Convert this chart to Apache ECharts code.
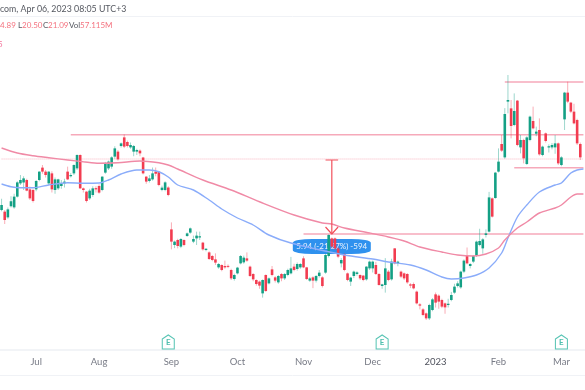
<!DOCTYPE html>
<html>
<head>
<meta charset="utf-8">
<style>
  html, body { margin: 0; padding: 0; background: #fff; }
  #chart { width: 585px; height: 390px; filter: blur(0.45px); }
</style>
<script src="https://cdn.jsdelivr.net/npm/echarts@6/dist/echarts.min.js"></script>
</head>
<body>
<div id="chart"></div>
<script>
// daily candles
const opens = [
  23.9,23.77,23.31,24.2,24.11,24.97,26.03,26.1,26.3,25.55,25.5,25.55,26.3,27.29,26.97,26.03,26.83,25.5,25.63,25.82,
  26.03,26.97,26.6,26.83,27.23,28.3,25.63,25.37,24.83,25.1,25.65,25.82,25.5,26.89,27.23,27.37,28.17,28.57,29.02,29.71,
  29.34,28.91,28.57,28.57,28.65,28.1,26.57,26.22,26.35,26.97,26.97,25.5,25.5,25.7,22.35,21.1,21.5,20.97,21.5,21.82,
  22.09,21.37,21.63,21.7,21.29,20.7,20.51,20.22,19.95,19.31,19.5,19.42,19.43,19.1,18.38,18.83,19.63,19.71,20.03,19.37,
  18.78,18.3,18.17,17.23,18.7,18.03,19.15,18.51,18.11,18.78,18.43,18.7,18.83,19.37,19.18,19.31,20.03,19.31,18.25,18.51,
  18.25,18.62,18.51,18.89,20.22,21.63,21.63,20.83,19.63,20.38,18.83,18.17,18.62,18.78,18.7,18.65,18.35,19.23,19.23,19.5,
  18.78,17.82,17.9,18.97,18.35,20.83,19.63,18.97,18.83,18.78,17.95,17.98,17.37,16.35,15.95,15.63,15.23,15.9,17.15,17.05,
  16.7,16.43,16.3,16.7,17.29,17.82,17.71,18.97,20.22,19.42,19.77,20.22,21.1,20.83,21.9,22.17,24.83,24.86,26.97,29.18,
  28.11,32.57,32.03,30.7,32.65,28.91,29.5,27.58,29.5,31.02,30.0,30.3,28.3,30.03,28.9,28.91,28.91,29.23,27.5,31.15,
  33.29,32.49,31.77,31.1,29.18
];
const closes = [
  24.3,23.1,23.95,24.6,24.97,26.11,26.3,26.43,25.45,24.83,24.62,26.22,26.97,26.97,26.7,26.97,25.55,26.35,26.35,26.03,
  26.17,26.35,26.7,27.5,28.3,25.63,25.5,24.62,25.45,25.63,25.55,25.29,26.57,27.63,27.77,28.11,28.83,27.95,29.23,28.97,
  29.02,29.1,29.02,28.7,28.43,26.83,26.17,26.43,26.83,26.8,25.9,25.69,26.11,25.1,21.37,21.37,21.02,21.58,21.1,22.03,
  22.43,21.58,21.85,21.8,20.75,20.8,19.98,19.9,19.69,19.58,19.1,19.31,19.37,18.43,18.7,19.29,20.22,20.09,19.85,18.62,
  18.35,17.98,17.85,18.3,17.42,18.43,18.7,18.25,18.62,18.43,18.78,19.1,19.23,19.1,19.58,19.58,19.31,18.38,18.43,18.25,
  18.62,18.89,17.82,20.3,21.9,20.97,20.83,20.17,19.9,19.1,18.3,18.49,18.97,18.91,18.43,18.3,19.37,19.77,19.77,18.78,
  17.9,17.95,19.23,18.3,19.77,19.63,19.77,18.57,18.43,18.11,17.85,17.63,16.43,16.25,15.5,15.23,16.3,16.75,16.49,16.57,
  16.17,16.11,16.4,17.1,17.77,18.03,18.97,19.85,19.63,19.58,20.22,21.37,21.42,21.55,22.03,24.91,23.37,26.89,27.77,28.65,
  31.58,32.7,30.62,31.82,29.1,29.5,28.03,29.71,31.37,30.43,30.17,28.35,28.97,29.42,29.0,29.1,29.23,27.63,28.11,33.29,
  32.57,31.77,30.83,29.23,28.11
];
const lows = [
  23.8,22.78,23.2,24.1,24.0,24.9,25.9,25.5,25.4,24.7,24.5,25.4,26.2,26.8,26.5,25.9,25.3,25.2,25.5,25.6,
  25.7,26.3,26.5,26.7,27.1,25.6,25.3,24.5,24.7,24.95,25.3,25.2,25.4,26.8,27.1,27.2,28.0,27.85,28.9,28.85,
  28.9,28.8,28.2,28.3,28.2,26.75,26.0,26.1,26.25,26.6,25.8,25.4,25.4,25.0,20.75,20.85,20.83,20.85,21.0,21.75,
  22.0,21.25,21.1,21.5,20.65,20.6,19.9,19.8,19.5,19.2,19.0,19.2,19.25,18.3,18.25,18.75,19.55,19.6,19.75,18.55,
  18.2,17.85,17.6,16.89,17.35,17.95,18.6,18.1,18.0,18.2,18.3,18.6,18.75,19.0,19.05,19.2,19.25,18.3,18.15,17.65,
  18.1,18.5,17.7,18.8,20.1,20.8,20.7,20.05,19.31,19.0,18.2,17.82,18.45,18.65,18.3,18.2,18.25,19.1,18.9,18.7,
  17.85,17.6,17.29,18.2,18.25,19.55,19.4,18.45,18.3,18.0,17.65,17.55,16.35,15.95,15.4,15.1,15.1,15.8,16.1,16.0,
  16.05,15.6,16.1,16.6,17.2,17.7,17.6,18.85,19.55,19.23,19.65,20.15,21.0,20.4,21.7,22.1,23.3,24.8,26.9,28.55,
  28.0,31.63,29.63,30.6,29.0,28.43,27.63,27.5,29.4,30.35,29.8,28.25,28.2,29.3,28.5,28.75,28.4,27.5,27.4,30.3,
  32.45,31.65,30.75,29.1,27.9
];
const highs = [
  24.8,23.9,24.1,25.0,25.2,26.2,26.7,26.6,26.4,25.77,25.6,26.3,27.0,27.5,27.1,27.0,27.0,26.5,26.4,26.3,
  26.4,27.37,26.85,27.55,28.35,28.35,25.7,25.4,25.6,25.8,25.8,25.95,26.6,27.75,27.85,28.2,29.0,28.7,29.3,29.95,
  29.45,29.3,29.1,28.8,28.75,28.15,26.6,26.7,27.3,27.3,27.0,25.85,26.2,25.8,22.91,21.45,21.6,21.65,21.55,22.1,
  22.5,21.85,22.17,22.17,21.35,20.85,20.6,20.3,20.43,19.65,19.55,19.85,19.55,19.2,18.8,19.35,20.3,20.25,20.51,19.45,
  18.85,18.35,18.25,18.35,18.75,18.5,19.42,18.6,18.7,18.85,18.85,19.2,20.15,19.6,19.7,19.65,20.2,19.35,18.55,18.6,
  18.7,19.1,18.6,20.4,21.95,21.7,21.7,20.95,20.05,20.45,18.9,18.55,19.05,19.0,18.75,18.7,19.4,19.85,19.85,19.75,
  18.85,18.0,20.05,19.1,20.0,20.85,19.85,19.05,18.9,18.85,18.05,18.1,17.45,16.45,16.05,15.7,16.4,16.85,17.3,17.15,
  16.8,16.5,16.8,17.35,18.0,18.2,19.05,19.95,20.9,19.65,20.3,21.45,22.4,21.65,22.35,25.35,24.9,26.95,28.83,29.9,
  32.05,34.7,32.7,33.23,32.7,29.9,29.6,29.8,31.45,32.17,30.57,31.23,29.05,30.1,29.15,29.25,29.9,29.3,28.2,33.35,
  34.17,32.55,32.4,31.2,29.3
];
// moving averages, sparse readings as [candle index, price]
const blueMa = [
  [0,25.98],[3,25.76],[6,25.68],[10,25.68],[15,25.9],[21,26.08],[26,26.04],[31,26.06],[34,26.3],[38,26.78],[43,27.1],
  [47,27.1],[50,26.96],[53,26.54],[56,25.9],[61,25.5],[66,24.7],[70,23.98],[75,23.26],[80,22.7],[85,21.9],[92,21.26],
  [109,20.3],[118,19.98],[123,19.74],[130,19.5],[135,19.1],[140,18.54],[143,18.38],[147,18.46],[151,18.7],[155,19.26],
  [159,20.46],[161,21.66],[164,23.34],[167,24.3],[171,25.34],[176,25.9],[178,26.06],[181,26.86],[183,27.1],[185,27.18]
];
const redMa = [
  [0,28.86],[5,28.46],[10,28.24],[15,28.08],[21,27.9],[26,27.76],[31,27.64],[37,27.68],[44,27.82],[50,27.68],[53,27.5],
  [56,27.18],[64,26.3],[73,25.5],[82,24.56],[93,23.5],[102,22.86],[105,22.78],[109,22.46],[117,22.06],[123,21.74],
  [128,21.42],[133,20.94],[140,20.54],[145,20.3],[150,20.22],[154,20.38],[158,20.86],[160,21.5],[164,22.46],[167,22.94],
  [171,23.66],[176,24.06],[178,24.3],[181,24.94],[183,25.18],[185,25.18]
];
// drawn levels: first candle and price
const levelStarts = [22, 96, 160, 163];
const levelPrices = [29.92, 21.98, 34.14, 27.28];
const lastPrice = 27.98;
// measure tool
const measureFrom = 27.9, measureTo = 21.98, measureIdx = 105;
const measureText = '5.94 (-21.27%) -594';
// earnings flags
const earnIdx = [53, 121, 178];
const earnPrice = 13.34;
// time axis
const tickIdx = [11, 31, 54, 75, 96, 118, 138, 158, 178];
const tickLabels = ['Jul', 'Aug', 'Sep', 'Oct', 'Nov', 'Dec', '2023', 'Feb', 'Mar'];

const categories = Array.from({length: 186}, (_, i) => i);
const candles = opens.map((o, i) => [i, o, closes[i], lows[i], highs[i]]);

const renderCandle = (params, api) => {
    const i = api.value(0);
    const o = api.value(1), c = api.value(2);
    const up = c >= o;
    const bodyTop = api.coord([i, Math.max(o, c)]);
    const bodyBot = api.coord([i, Math.min(o, c)]);
    const lo = api.coord([i, api.value(3)]);
    const hi = api.coord([i, api.value(4)]);
    const w = 2.6;
    const x = bodyTop[0];
    return {
        type: 'group',
        children: [
            {
                type: 'line',
                shape: {x1: x, y1: hi[1], x2: x, y2: lo[1]},
                style: {stroke: up ? 'rgba(23,160,135,0.42)' : 'rgba(242,60,80,0.42)', lineWidth: 1}
            },
            {
                type: 'rect',
                shape: {x: x - w / 2, y: bodyTop[1], width: w, height: Math.max(bodyBot[1] - bodyTop[1], 1)},
                style: {fill: up ? '#14a085' : '#f23c50'}
            }
        ]
    };
};

const lineSeries = (data, color, width, z, type) => ({
    type: 'line',
    data,
    z,
    silent: true,
    showSymbol: false,
    symbol: 'none',
    animation: false,
    lineStyle: {color, width, type: type || 'solid'}
});

const levelSeries = levelStarts.map((s, i) =>
    lineSeries([[s, levelPrices[i]], [185, levelPrices[i]]], '#f6a9ba', 1.4, 1));

const chart = echarts.init(document.getElementById('chart'), null, {renderer: 'canvas'});
chart.setOption({
    animation: false,
    backgroundColor: '#fff',
    grid: {left: 0, top: 0, right: -3, height: 350},
    xAxis: {
        type: 'category',
        data: categories,
        boundaryGap: true,
        axisLine: {lineStyle: {color: '#eef0f5', width: 1.5}},
        axisTick: {show: false},
        splitLine: {show: false},
        axisLabel: {
            interval: (i) => tickIdx.includes(i),
            formatter: (v) => tickLabels[tickIdx.indexOf(Number(v))],
            color: (v) => (Number(v) === 138 ? '#50535e' : '#787b86'),
            fontFamily: 'Lato',
            fontSize: 9.5,
            margin: 7
        }
    },
    yAxis: {
        type: 'value',
        min: 12.7,
        max: 40.7,
        show: false,
        splitLine: {show: false}
    },
    series: [
        lineSeries([[0, lastPrice], [185, lastPrice]], '#f7b4bf', 1, 1, 'dotted'),
        ...levelSeries,
        {
            // measure label, sits under the candles
            type: 'scatter',
            z: 2,
            silent: true,
            data: [[measureIdx, 20.98]],
            symbol: 'roundRect',
            symbolSize: [78, 15],
            itemStyle: {color: '#2f91ee', opacity: 1},
            label: {
                show: true,
                position: 'inside',
                formatter: measureText,
                color: '#eef5fd',
                fontFamily: 'Lato',
                fontSize: 8
            }
        },
        {
            type: 'custom',
            z: 3,
            silent: true,
            data: candles,
            encode: {x: 0, y: [1, 2, 3, 4]},
            renderItem: renderCandle
        },
        Object.assign(lineSeries(blueMa, '#8aacfa', 1.4, 4), {smooth: 0.3}),
        Object.assign(lineSeries(redMa, '#f08aa6', 1.4, 4), {smooth: 0.3}),
        // measure arrow
        lineSeries([[measureIdx, measureFrom], [measureIdx, measureTo]], '#f2505c', 1.2, 5),
        lineSeries([[103, measureFrom], [107, measureFrom]], '#f2505c', 1.2, 5),
        lineSeries([[103, 22.54], [measureIdx, measureTo], [107, 22.54]], '#f2505c', 1.2, 5),
        {
            type: 'scatter',
            z: 5,
            silent: true,
            data: earnIdx.map((i) => [i, earnPrice]),
            symbol: 'path://M1 5 L6 1 L11 5 L11 15 L1 15 Z',
            symbolSize: [12, 14],
            itemStyle: {color: '#fff', borderColor: '#57c4b4', borderWidth: 1.1, opacity: 1},
            label: {
                show: true,
                position: 'inside',
                formatter: 'E',
                color: '#4fbfae',
                fontFamily: 'Lato',
                fontWeight: 'bold',
                fontSize: 8
            }
        }
    ],
    graphic: [
        {type: 'line', shape: {x1: 0, y1: 16.5, x2: 585, y2: 16.5}, style: {stroke: '#f0f2f6', lineWidth: 1}},
        {type: 'line', shape: {x1: 0, y1: 375.5, x2: 585, y2: 375.5}, style: {stroke: '#f0f2f6', lineWidth: 1}},
        {type: 'text', x: 0, y: 5, style: {text: 'com, Apr 06, 2023 08:05 UTC+3', fill: '#555860', font: '8.8px Lato'}},
        {type: 'text', x: 0, y: 21, style: {text: '4.89', fill: '#f4727f', font: '8px Lato'}},
        {type: 'text', x: 18, y: 21, style: {text: 'L', fill: '#555860', font: '8px Lato'}},
        {type: 'text', x: 22, y: 21, style: {text: '20.50', fill: '#f4727f', font: '8px Lato'}},
        {type: 'text', x: 43, y: 21, style: {text: 'C', fill: '#555860', font: '8px Lato'}},
        {type: 'text', x: 48, y: 21, style: {text: '21.09', fill: '#f4727f', font: '8px Lato'}},
        {type: 'text', x: 69, y: 21, style: {text: 'Vol', fill: '#555860', font: '8px Lato'}},
        {type: 'text', x: 80, y: 21, style: {text: '57.115M', fill: '#f4727f', font: '8px Lato'}},
        {type: 'text', x: -2, y: 40, style: {text: '5', fill: '#f4729b', font: '8px Lato'}}
    ]
});
</script>
</body>
</html>
